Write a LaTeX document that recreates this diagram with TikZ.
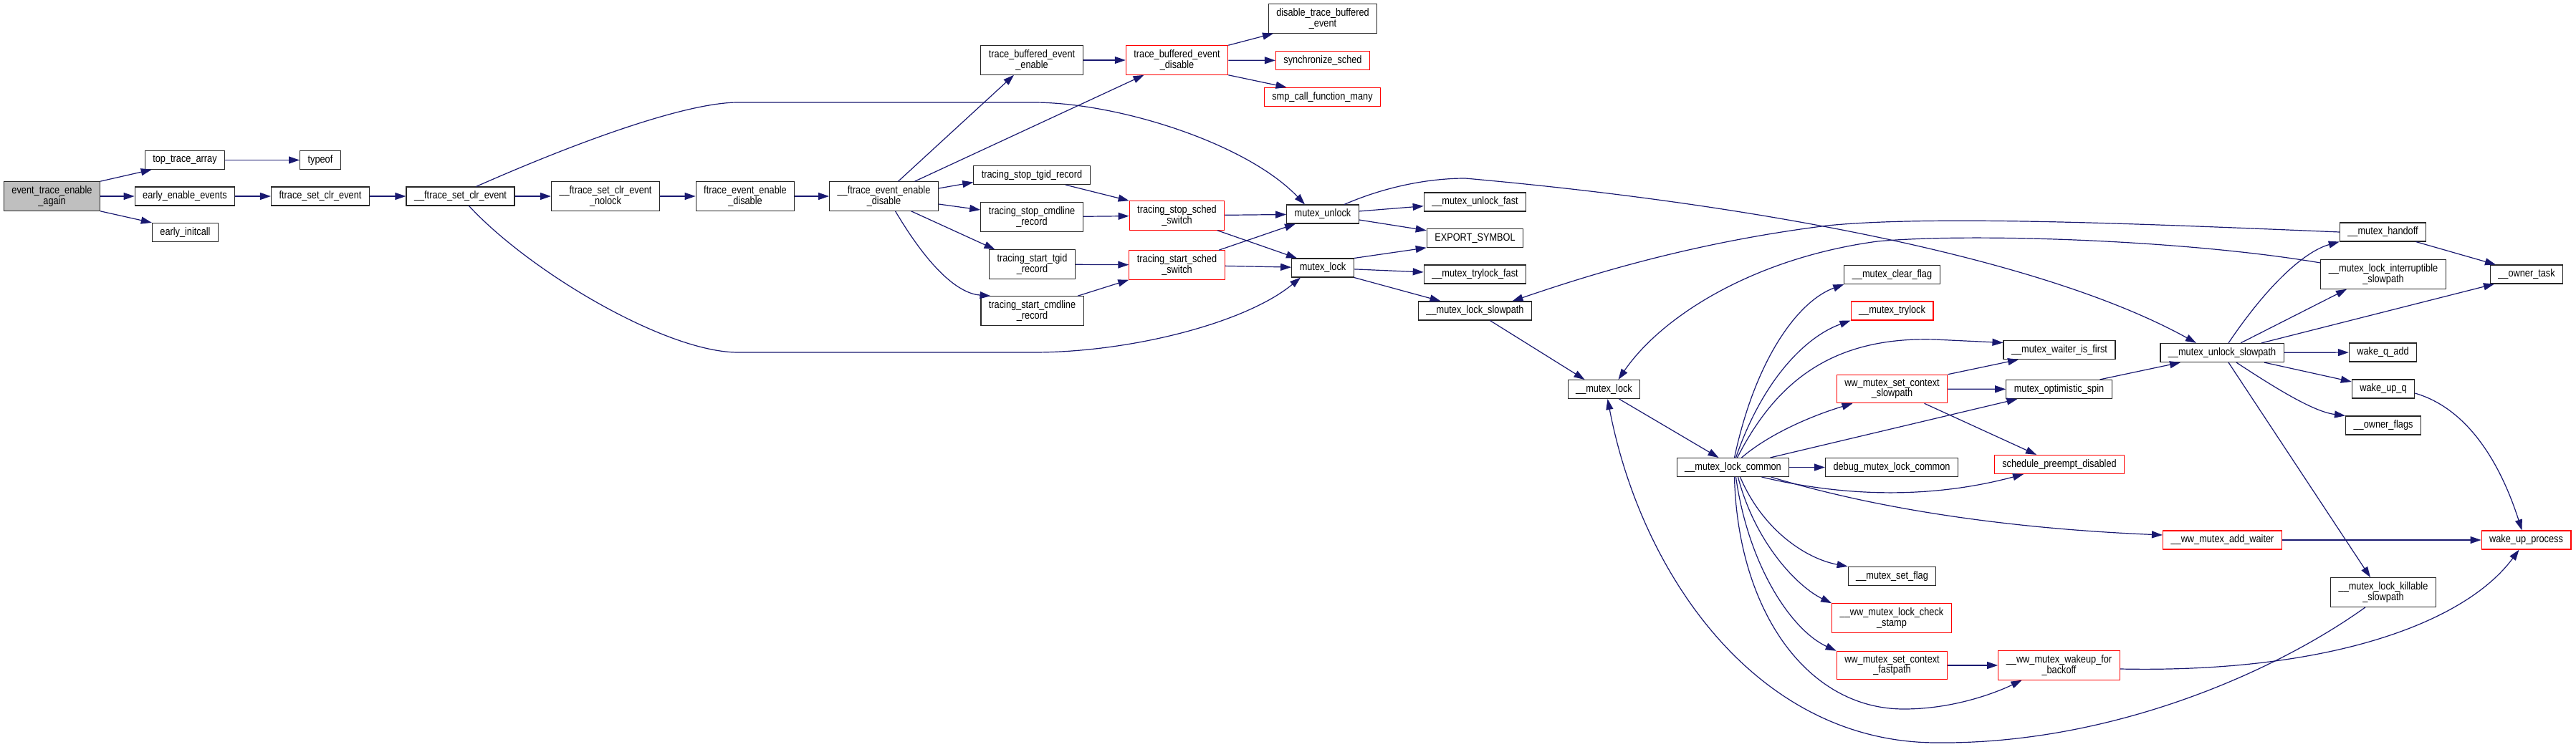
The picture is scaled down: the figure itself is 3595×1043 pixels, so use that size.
\documentclass[tikz,border=0pt]{standalone}
\usepackage{fontspec}
\setmainfont{Liberation Sans}[FakeStretch=0.85]
\usetikzlibrary{arrows.meta}
\definecolor{edgeblue}{HTML}{191970}
\definecolor{rootgrey}{HTML}{BFBFBF}
\tikzset{
	fn/.style={draw=black!85, line width=1.2pt, fill=white, align=center,
		inner xsep=11pt, inner ysep=6pt, minimum height=25.5pt,
		font=\fontsize{15}{14.5}\selectfont},
	fnroot/.style={fn, fill=rootgrey},
	fntrunc/.style={fn, draw=red},
	call/.style={draw=edgeblue, line width=1.2pt, -{Triangle[length=15pt, width=10pt]}},
}
\begin{document}
\begin{tikzpicture}[x=1pt, y=-1pt]
	\useasboundingbox (0,0) rectangle (3595,1043);
	\node[fnroot] (etea) at (72.5,274) {event\_trace\_enable\\\_again};
	\node[fn] (tta) at (258,223.5) {top\_trace\_array};
	\node[fn] (eee) at (258,274) {early\_enable\_events};
	\node[fn] (ei) at (258.5,324.5) {early\_initcall};
	\node[fn] (typeof) at (447,223.5) {typeof};
	\node[fn] (ftsce) at (447,274) {ftrace\_set\_clr\_event};
	\node[fn] (uftsce) at (642.5,274) {\_\_ftrace\_set\_clr\_event};
	\node[fn] (nolock) at (845,274) {\_\_ftrace\_set\_clr\_event\\\_nolock};
	\node[fn] (feed) at (1040,274) {ftrace\_event\_enable\\\_disable};
	\node[fn] (ufeed) at (1233.5,274) {\_\_ftrace\_event\_enable\\\_disable};
	\node[fn] (tbee) at (1440,84) {trace\_buffered\_event\\\_enable};
	\node[fn] (tstr) at (1440,244.5) {tracing\_stop\_tgid\_record};
	\node[fn] (tscr) at (1440,303) {tracing\_stop\_cmdline\\\_record};
	\node[fn] (tsttr) at (1440.5,369) {tracing\_start\_tgid\\\_record};
	\node[fn] (tstcr) at (1440.5,434) {tracing\_start\_cmdline\\\_record};
	\node[fntrunc] (tbed) at (1642.5,84) {trace\_buffered\_event\\\_disable};
	\node[fntrunc] (tsss) at (1642.5,301) {tracing\_stop\_sched\\\_switch};
	\node[fntrunc] (tstss) at (1642.5,370) {tracing\_start\_sched\\\_switch};
	\node[fn] (dtbe) at (1846,26) {disable\_trace\_buffered\\\_event};
	\node[fntrunc] (sync) at (1846,84.5) {synchronize\_sched};
	\node[fntrunc] (smp) at (1845.5,135.5) {smp\_call\_function\_many};
	\node[fn] (mu) at (1846,299) {mutex\_unlock};
	\node[fn] (ml) at (1846,374) {mutex\_lock};
	\node[fn] (muf) at (2058.5,282) {\_\_mutex\_unlock\_fast};
	\node[fn] (es) at (2058.5,332.5) {EXPORT\_SYMBOL};
	\node[fn] (mtf) at (2058.5,383) {\_\_mutex\_trylock\_fast};
	\node[fn] (mls) at (2058.5,434) {\_\_mutex\_lock\_slowpath};
	\node[fn] (uml) at (2238.5,543.5) {\_\_mutex\_lock};
	\node[fn] (mlc) at (2418.5,652.5) {\_\_mutex\_lock\_common};
	\node[fn] (mcf) at (2640.5,383.5) {\_\_mutex\_clear\_flag};
	\node[fntrunc] (mt) at (2640.5,434) {\_\_mutex\_trylock};
	\node[fntrunc] (wmscs) at (2640.5,543) {ww\_mutex\_set\_context\\\_slowpath};
	\node[fn] (dmlc) at (2640,652.5) {debug\_mutex\_lock\_common};
	\node[fn] (msf) at (2640.5,804.5) {\_\_mutex\_set\_flag};
	\node[fntrunc] (wmlcs) at (2640,863) {\_\_ww\_mutex\_lock\_check\\\_stamp};
	\node[fntrunc] (wmscf) at (2640.5,929) {ww\_mutex\_set\_context\\\_fastpath};
	\node[fn] (mwif) at (2874,488.5) {\_\_mutex\_waiter\_is\_first};
	\node[fn] (mos) at (2873.5,543.5) {mutex\_optimistic\_spin};
	\node[fntrunc] (spd) at (2874,648.5) {schedule\_preempt\_disabled};
	\node[fntrunc] (wmwb) at (2873.5,929) {\_\_ww\_mutex\_wakeup\_for\\\_backoff};
	\node[fn] (mus) at (3101,492.5) {\_\_mutex\_unlock\_slowpath};
	\node[fntrunc] (wmaw) at (3101.5,754) {\_\_ww\_mutex\_add\_waiter};
	\node[fn] (mh) at (3325.5,324) {\_\_mutex\_handoff};
	\node[fn] (mlis) at (3326,383) {\_\_mutex\_lock\_interruptible\\\_slowpath};
	\node[fn] (wqa) at (3325.5,492) {wake\_q\_add};
	\node[fn] (wuq) at (3326,543) {wake\_up\_q};
	\node[fn] (of) at (3326,594) {\_\_owner\_flags};
	\node[fn] (mlks) at (3326,827) {\_\_mutex\_lock\_killable\\\_slowpath};
	\node[fn] (ot) at (3526,383) {\_\_owner\_task};
	\node[fntrunc] (wup) at (3525.5,754) {wake\_up\_process};
	\draw[call] (etea.north east) -- ([xshift=10]tta.south west);
	\draw[call] (etea) -- (eee);
	\draw[call] (etea.south east) -- (ei.north west);
	\draw[call] (tta) -- (typeof);
	\draw[call] (eee) -- (ftsce);
	\draw[call] (ftsce) -- (uftsce);
	\draw[call] (uftsce) -- (nolock);
	\draw[call] (nolock) -- (feed);
	\draw[call] (feed) -- (ufeed);
	\draw[call] ([xshift=22]uftsce.north) .. controls (815,194) and (960,143) .. (1030,143) -- (1442,143)
		.. controls (1560,143) and (1740,200) .. ([xshift=-25]mu.north);
	\draw[call] ([xshift=12]uftsce.south) .. controls (740,380) and (930,492) .. (1030,492) -- (1442,492)
		.. controls (1580,492) and (1740,450) .. ([xshift=-31]ml.south);
	\draw[call] ([xshift=20]ufeed.north) -- ([xshift=-25]tbee.south);
	\draw[call] ([xshift=43]ufeed.north) -- ([xshift=-46]tbed.south);
	\draw[call] ([yshift=11]ufeed.east) -- ([yshift=-10]tstr.west);
	\draw[call] ([yshift=-11]ufeed.east) -- ([yshift=10]tscr.west);
	\draw[call] ([xshift=38]ufeed.south) -- ([xshift=-52]tsttr.north);
	\draw[call] ([xshift=16]ufeed.south) .. controls (1300,380) and (1340,410) .. ([xshift=-58]tstcr.north);
	\draw[call] (tbee) -- (tbed);
	\draw[call] (tbed.north east) -- ([xshift=-69]dtbe.south);
	\draw[call] (tbed) -- (sync);
	\draw[call] (tbed.south east) -- ([xshift=-50]smp.north);
	\draw[call] ([xshift=47]tstr.south) -- (tsss.north west);
	\draw[call] (tscr) -- (tsss);
	\draw[call] (tsttr) -- (tstss);
	\draw[call] ([xshift=63.5]tstcr.north) -- (tstss.south west);
	\draw[call] (tsss) -- (mu);
	\draw[call] ([xshift=56.5]tsss.south) -- ([xshift=-36]ml.north);
	\draw[call] ([xshift=58.5]tstss.north) -- ([xshift=-38]mu.south);
	\draw[call] (tstss) -- (ml);
	\draw[call] (mu) -- (muf);
	\draw[call] (mu) -- (es);
	\draw[call] ([xshift=30]mu.north) .. controls (1930,262) and (1990,249) .. (2045,249)
		.. controls (2450,285) and (2850,360) .. ([xshift=-36]mus.north);
	\draw[call] (ml.north east) -- (es.south west);
	\draw[call] (ml) -- (mtf);
	\draw[call] (ml.south east) -- ([xshift=-48]mls.north);
	\draw[call] ([xshift=21]mls.south) -- ([xshift=-27]uml.north);
	\draw[call] (mh.west) .. controls (3000,313) and (2700,300) .. (2550,315)
		.. controls (2350,340) and (2200,390) .. ([xshift=52]mls.north);
	\draw[call] ([yshift=16]mlis.west) .. controls (3050,335) and (2750,325) .. (2620,337)
		.. controls (2450,360) and (2320,440) .. ([xshift=20]uml.north);
	\draw[call] ([xshift=-25]mlks.south) .. controls (3180,935) and (2950,1040) .. (2700,1037)
		.. controls (2450,1035) and (2290,800) .. ([xshift=5]uml.south);
	\draw[call] ([xshift=21]uml.south) -- ([xshift=-20]mlc.north);
	\draw[call] ([xshift=2]mlc.north) .. controls (2450,500) and (2510,420) .. (mcf.south west);
	\draw[call] ([xshift=4]mlc.north) .. controls (2460,530) and (2520,470) .. (mt.south west);
	\draw[call] ([xshift=6]mlc.north) .. controls (2480,530) and (2560,470) .. (2700,474) -- ([yshift=10]mwif.west);
	\draw[call] ([xshift=12]mlc.north) .. controls (2470,605) and (2530,580) .. ([xshift=-55]wmscs.south);
	\draw[call] ([xshift=52]mlc.north) -- ([xshift=-58]mos.south);
	\draw[call] (mlc) -- (dmlc);
	\draw[call] ([xshift=40]mlc.south) .. controls (2600,700) and (2720,690) .. ([xshift=-50]spd.south);
	\draw[call] ([xshift=53]mlc.south) .. controls (2650,720) and (2850,740) .. ([yshift=7]wmaw.west);
	\draw[call] ([xshift=10]mlc.south) .. controls (2460,740) and (2520,780) .. (msf.north west);
	\draw[call] ([xshift=7]mlc.south) .. controls (2450,760) and (2510,820) .. (wmlcs.north west);
	\draw[call] ([xshift=4]mlc.south) .. controls (2440,790) and (2500,880) .. (wmscf.north west);
	\draw[call] ([xshift=2]mlc.south) .. controls (2425,850) and (2520,990) .. (2657,990)
		.. controls (2730,990) and (2790,965) .. ([xshift=-52]wmwb.south);
	\draw[call] (wmscs.north east) -- ([xshift=-57]mwif.south);
	\draw[call] (wmscs) -- (mos);
	\draw[call] ([xshift=45]wmscs.south) -- ([xshift=-32]spd.north);
	\draw[call] (wmscf) -- (wmwb);
	\draw[call] ([xshift=57]mos.north) -- ([xshift=-58]mus.south);
	\draw[call] ([xshift=9]mus.north) .. controls (3170,390) and (3220,350) .. (mh.south west);
	\draw[call] ([xshift=26]mus.north) -- ([xshift=-51]mlis.south);
	\draw[call] ([xshift=55]mus.north) -- ([xshift=-45]ot.south);
	\draw[call] (mus) -- (wqa);
	\draw[call] ([xshift=59]mus.south) -- ([yshift=10]wuq.west);
	\draw[call] ([xshift=20]mus.south) .. controls (3180,545) and (3230,575) .. (of.north west);
	\draw[call] ([xshift=9]mus.south) -- ([xshift=-18]mlks.north);
	\draw[call] ([xshift=46]mh.south) -- ([xshift=-43]ot.north);
	\draw[call] ([yshift=-6]wuq.east) .. controls (3460,575) and (3500,680) .. ([xshift=-6]wup.north);
	\draw[call] (wmaw) -- (wup);
	\draw[call] ([yshift=-5]wmwb.east) .. controls (3250,940) and (3440,870) .. ([xshift=-10]wup.south);
\end{tikzpicture}
\end{document}
